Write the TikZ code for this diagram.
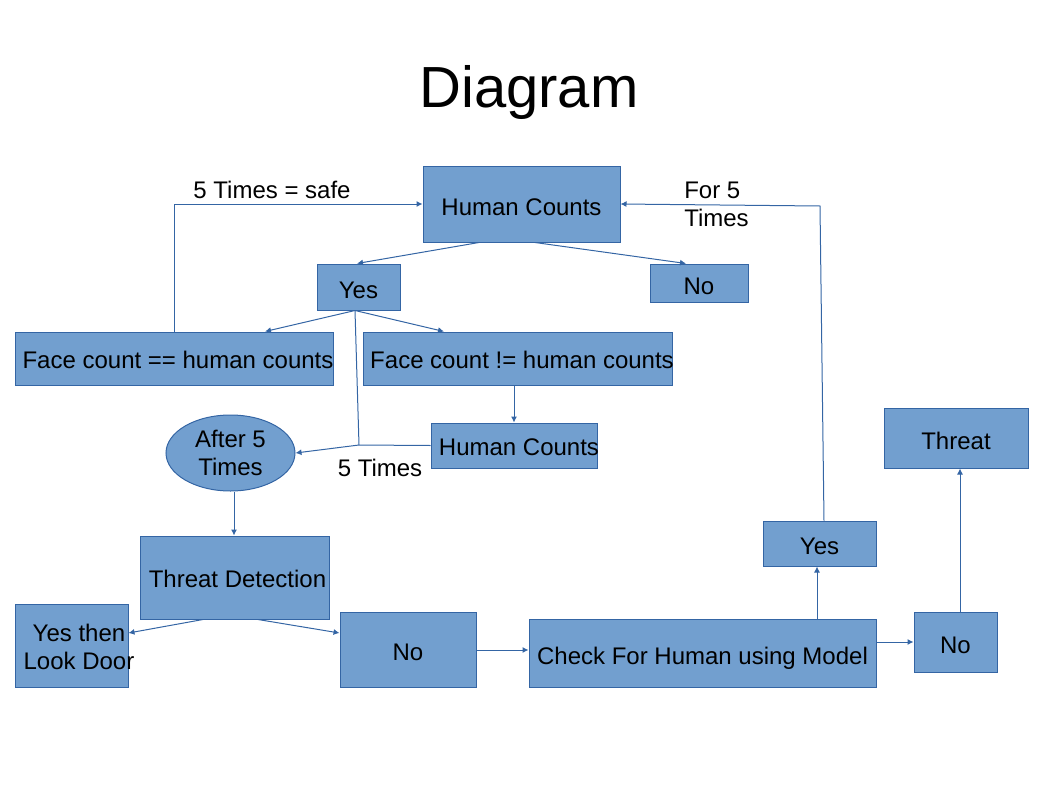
\documentclass[tikz,border=0pt]{standalone}
\usepackage{fontspec}
\setmainfont{Liberation Sans}
\usetikzlibrary{arrows.meta,shapes.geometric}
\definecolor{boxfill}{HTML}{729FCF}
\definecolor{boxline}{HTML}{3465A4}
\tikzset{
  box/.style={draw=boxline, fill=boxfill, line width=0.75pt, inner sep=0pt, text=black},
  sbox/.style={box, text height=17pt, text depth=0.5pt},
  oval/.style={box, ellipse, align=center},
  conn/.style={draw=boxline, line width=0.75pt},
  arr/.style={conn, -{Latex[length=4.5pt,width=4.5pt]}},
  lbl/.style={inner sep=0pt, text=black, align=center}
}
\begin{document}
\begin{tikzpicture}[x=0.75pt, y=-0.75pt, font=\fontsize{18}{21}\selectfont]
\useasboundingbox (0,0) rectangle (1058,793);
\node[lbl, font=\fontsize{43.5}{50}\selectfont] (title) at (529,93) {Diagram};

\node[sbox, minimum width=147.75pt, minimum height=57pt] (hc1) at (521.5,204) {Human Counts};
\node[sbox, minimum width=62.25pt, minimum height=34.5pt] (yes1) at (358.5,287) {Yes};
\node[sbox, minimum width=73.5pt, minimum height=28.5pt] (no1) at (699,283) {No};
\node[box, minimum width=238.5pt, minimum height=39.75pt] (feq) at (174,358.5) {};
\node[lbl] (feqtxt) at (178,360) {Face count == human counts};
\node[box, minimum width=231.75pt, minimum height=39.75pt] (fneq) at (517.5,358.5) {};
\node[lbl] (fneqtxt) at (522,360) {Face count != human counts};
\node[box, minimum width=124.5pt, minimum height=33.75pt] (hc2) at (514,445.5) {};
\node[lbl] (hc2txt) at (519,447) {Human Counts};
\node[oval, minimum width=96.75pt, minimum height=57pt] (after) at (230.5,453) {After 5\\Times};
\node[box, minimum width=141.75pt, minimum height=62.25pt] (td) at (234.5,577.5) {};
\node[lbl] (tdtxt) at (237.5,579) {Threat Detection};
\node[box, minimum width=84.75pt, minimum height=62.25pt] (yesthen) at (71.5,645.5) {};
\node[lbl] (yesthentxt) at (79,647) {Yes then\\Look Door};
\node[sbox, minimum width=102pt, minimum height=56.25pt] (no2) at (408,649.5) {No};
\node[sbox, minimum width=260.25pt, minimum height=51pt] (check) at (702.5,653) {Check For Human using Model};
\node[sbox, minimum width=62.25pt, minimum height=45pt] (no3) at (955.5,642) {No};
\node[sbox, minimum width=84.75pt, minimum height=33.75pt] (yes2) at (819.5,543.5) {Yes};
\node[sbox, minimum width=108pt, minimum height=45pt] (threat) at (956,438) {Threat};

\node[lbl] (l1) at (272,190) {5 Times = safe};
\node[lbl] (l2) at (380,468) {5 Times};
\node[lbl, align=left, anchor=west] (l3) at (684,204) {For 5\\Times};

% connectors
\draw[arr] (hc1.south -| 479,0) -- (yes1.north -| 357,0);
\draw[arr] (hc1.south -| 535,0) -- (no1.north -| 686,0);
\draw[arr] (yes1.south -| 355,0) -- (feq.north -| 265,0);
\draw[arr] (yes1.south -| 355,0) -- (fneq.north -| 444,0);
\coordinate (c1) at (174,204);
\draw[arr] (feq.north) -- (c1) -- (hc1.west);
\draw[arr] (fneq.south -| hc2.north) -- (hc2.north);
\coordinate (j) at (359,445);
\draw[conn] (yes1.south -| 355,0) -- (j);
\draw[arr] (hc2.west) -- (j) -- (after.east);
\draw[arr] (after.south -| 234,0) -- (td.north -| 234,0);
\draw[arr] (td.south -| 203,0) -- (yesthen.east |- 0,633);
\draw[arr] (td.south -| 258,0) -- (no2.west |- 0,633);
\draw[arr] (no2.east |- 0,650) -- (check.west |- 0,650);
\draw[arr] (check.north -| 817,0) -- (yes2.south -| 817,0);
\coordinate (c2) at (820,206);
\draw[arr] (yes2.north -| 824,0) -- (c2) -- (hc1.east);
\draw[arr] (check.east |- 0,642) -- (no3.west |- 0,642);
\draw[arr] (no3.north -| 960,0) -- (threat.south -| 960,0);
\end{tikzpicture}
\end{document}
